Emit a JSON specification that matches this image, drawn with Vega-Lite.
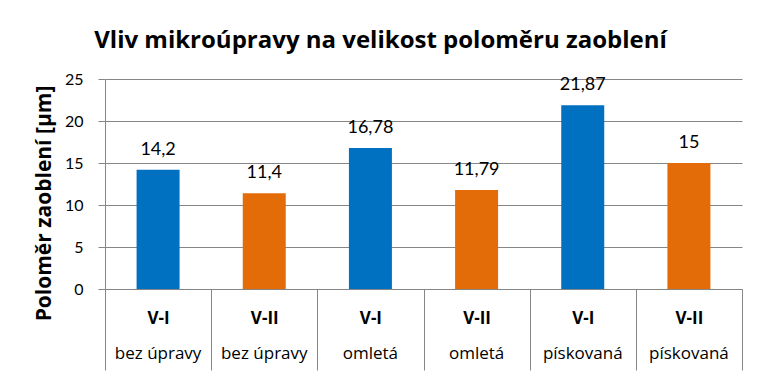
{
  "$schema": "https://vega.github.io/schema/vega-lite/v6.json",
  "width": 637,
  "height": 210,
  "autosize": "none",
  "padding": {"left": 105, "top": 79, "right": 23, "bottom": 92},
  "background": "white",
  "title": {
    "text": "Vliv mikroúpravy na velikost poloměru zaoblení",
    "font": "Open Sans",
    "fontSize": 24,
    "fontWeight": "bold",
    "color": "#000000",
    "anchor": "middle",
    "frame": "group",
    "dx": -43,
    "baseline": "alphabetic",
    "offset": -1
  },
  "data": {
    "values": [
      {"key": "V-I|bez úpravy", "variant": "V-I", "treatment": "bez úpravy", "value": 14.2},
      {"key": "V-II|bez úpravy", "variant": "V-II", "treatment": "bez úpravy", "value": 11.4},
      {"key": "V-I|omletá", "variant": "V-I", "treatment": "omletá", "value": 16.78},
      {"key": "V-II|omletá", "variant": "V-II", "treatment": "omletá", "value": 11.79},
      {"key": "V-I|pískovaná", "variant": "V-I", "treatment": "pískovaná", "value": 21.87},
      {"key": "V-II|pískovaná", "variant": "V-II", "treatment": "pískovaná", "value": 15}
    ]
  },
  "layer": [
    {
      "mark": {"type": "bar", "width": {"band": 0.405}},
      "encoding": {
        "x": {
          "field": "key",
          "type": "nominal",
          "sort": null,
          "scale": {"paddingInner": 0, "paddingOuter": 0},
          "axis": {
            "orient": "bottom",
            "title": null,
            "labelExpr": "split(datum.label, '|')[0]",
            "labelAngle": 0,
            "labelFont": "Open Sans",
            "labelFontSize": 17,
            "labelFontWeight": "bold",
            "labelColor": "#000000",
            "labelBaseline": "alphabetic",
            "labelPadding": -47,
            "tickBand": "extent",
            "tickSize": 81,
            "tickColor": "#868686",
            "domainColor": "#868686",
            "grid": false
          }
        },
        "y": {
          "field": "value",
          "type": "quantitative",
          "scale": {"domain": [0, 25], "nice": false},
          "axis": {
            "values": [0, 5, 10, 15, 20, 25],
            "title": "Poloměr zaoblení [µm]",
            "titleFont": "Open Sans",
            "titleFontSize": 21,
            "titleFontWeight": "bold",
            "titleColor": "#000000",
            "titleX": -55,
            "titleY": 124,
            "titleAngle": -90,
            "titleAlign": "center",
            "titleBaseline": "alphabetic",
            "labelFont": "Lato",
            "labelFontSize": 16,
            "labelColor": "#000000",
            "labelPadding": 15,
            "tickSize": 7,
            "tickColor": "#868686",
            "domainColor": "#868686",
            "gridColor": "#868686",
            "grid": true
          }
        },
        "color": {
          "field": "variant",
          "type": "nominal",
          "scale": {"domain": ["V-I", "V-II"], "range": ["#0070C0", "#E36C09"]},
          "legend": null
        }
      }
    },
    {
      "mark": {"type": "text", "baseline": "alphabetic", "dy": -15, "font": "Lato", "fontSize": 18, "color": "#000000"},
      "encoding": {
        "x": {
          "field": "key",
          "type": "nominal",
          "sort": null,
          "axis": {
            "orient": "bottom",
            "title": null,
            "labelExpr": "split(datum.label, '|')[1]",
            "labelAngle": 0,
            "labelFont": "Open Sans",
            "labelFontSize": 17,
            "labelColor": "#000000",
            "labelBaseline": "alphabetic",
            "labelPadding": 69,
            "ticks": false,
            "domain": false,
            "grid": false
          }
        },
        "y": {"field": "value", "type": "quantitative"},
        "text": {"field": "value", "type": "quantitative", "format": "~g"}
      }
    }
  ],
  "resolve": {"axis": {"x": "independent"}},
  "config": {
    "locale": {"number": {"decimal": ",", "thousands": " ", "grouping": [3], "currency": ["", ""]}},
    "view": {"stroke": null},
    "axis": {"domainWidth": 1, "tickWidth": 1, "gridWidth": 1}
  }
}
